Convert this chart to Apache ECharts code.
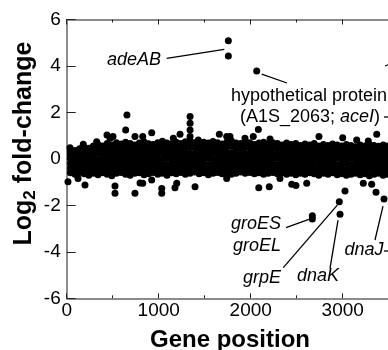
<!DOCTYPE html>
<html><head><meta charset="utf-8">
<script src="https://cdn.jsdelivr.net/npm/echarts@6/dist/echarts.min.js"></script>
<style>html,body{margin:0;padding:0;background:#fff;overflow:hidden;width:388px;height:350px}
#c{width:450px;height:350px}</style></head>
<body><div id="c"></div>
<script>
// ---- data ----
const bandGenes = [40,90,140,190,240,290,340,390,440,490,540,590,
640,690,740,790,840,890,940,990,1040,1090,1140,1190,
1240,1290,1340,1390,1440,1490,1540,1590,1640,1690,1740,1790,
1840,1890,1940,1990,2040,2090,2140,2190,2240,2290,2340,2390,
2440,2490,2540,2590,2640,2690,2740,2790,2840,2890,2940,2990,
3040,3090,3140,3190,3240,3290,3340,3390,3440,3490,3540,3590];
const bandTop = [0.32,0.36,0.44,0.50,0.46,0.56,0.62,0.56,0.66,0.60,0.70,0.64,
0.72,0.66,0.60,0.68,0.74,0.65,0.62,0.70,0.76,0.68,0.64,0.72,
0.66,0.74,0.78,0.70,0.66,0.72,0.68,0.75,0.70,0.64,0.72,0.78,
0.68,0.66,0.74,0.70,0.62,0.68,0.72,0.64,0.70,0.66,0.60,0.68,
0.62,0.66,0.58,0.64,0.60,0.66,0.56,0.62,0.58,0.64,0.60,0.55,
0.62,0.58,0.52,0.60,0.56,0.62,0.58,0.54,0.60,0.56,0.62,0.58];
const bandUpper2 = [0.22,0.28,0.34,0.40,0.38,0.42,0.44,0.40,0.46,0.42,0.48,0.44,
0.50,0.46,0.42,0.46,0.50,0.44,0.42,0.48,0.52,0.46,0.44,0.48,
0.46,0.50,0.52,0.48,0.46,0.50,0.46,0.52,0.48,0.44,0.50,0.54,
0.46,0.46,0.50,0.48,0.42,0.46,0.50,0.44,0.48,0.46,0.42,0.46,
0.42,0.46,0.40,0.44,0.42,0.46,0.38,0.42,0.40,0.44,0.42,0.38,
0.42,0.40,0.36,0.42,0.38,0.42,0.40,0.38,0.42,0.38,0.42,0.40];
const bandUpper1 = [0.12,0.16,0.20,0.22,0.18,0.22,0.24,0.20,0.24,0.20,0.26,0.22,
0.24,0.20,0.18,0.24,0.26,0.22,0.20,0.24,0.26,0.22,0.20,0.24,
0.22,0.26,0.24,0.22,0.20,0.24,0.22,0.26,0.24,0.20,0.24,0.26,
0.22,0.20,0.24,0.22,0.18,0.22,0.24,0.20,0.22,0.20,0.18,0.22,
0.20,0.22,0.18,0.22,0.20,0.22,0.18,0.20,0.18,0.22,0.20,0.18,
0.20,0.18,0.16,0.20,0.18,0.20,0.18,0.16,0.20,0.18,0.20,0.18];
const bandCenter = [0.02,-0.04,0.04,-0.02,0.00,0.03,-0.03,0.05,-0.01,0.02,0.04,-0.02,
0.03,0.00,-0.04,0.02,0.05,-0.01,0.01,0.03,-0.02,0.04,0.00,0.02,
-0.03,0.05,0.01,-0.02,0.03,0.00,0.04,-0.01,0.02,-0.03,0.03,0.01,
-0.02,0.04,0.00,0.02,-0.01,0.03,0.00,-0.02,0.02,0.04,-0.03,0.01,
0.03,-0.01,0.02,0.00,-0.02,0.03,0.01,-0.03,0.02,0.00,0.04,-0.02,
0.01,0.03,-0.01,0.02,0.00,-0.03,0.02,0.04,-0.01,0.01,0.03,0.00];
const bandLower1 = [-0.20,-0.24,-0.18,-0.22,-0.24,-0.20,-0.22,-0.18,-0.24,-0.22,-0.20,-0.18,
-0.22,-0.24,-0.20,-0.18,-0.22,-0.24,-0.20,-0.22,-0.18,-0.24,-0.20,-0.22,
-0.18,-0.22,-0.20,-0.18,-0.22,-0.20,-0.24,-0.22,-0.18,-0.22,-0.20,-0.24,
-0.22,-0.18,-0.20,-0.22,-0.24,-0.20,-0.22,-0.18,-0.20,-0.24,-0.22,-0.20,
-0.22,-0.24,-0.20,-0.22,-0.18,-0.22,-0.24,-0.20,-0.22,-0.18,-0.24,-0.22,
-0.20,-0.24,-0.22,-0.20,-0.22,-0.24,-0.20,-0.22,-0.24,-0.22,-0.20,-0.24];
const bandLower2 = [-0.40,-0.44,-0.38,-0.42,-0.46,-0.40,-0.44,-0.40,-0.44,-0.46,-0.40,-0.38,
-0.44,-0.46,-0.40,-0.40,-0.44,-0.42,-0.38,-0.44,-0.42,-0.46,-0.40,-0.42,
-0.38,-0.44,-0.42,-0.38,-0.42,-0.40,-0.44,-0.42,-0.38,-0.42,-0.40,-0.44,
-0.42,-0.38,-0.42,-0.40,-0.42,-0.40,-0.44,-0.42,-0.38,-0.42,-0.40,-0.44,
-0.42,-0.46,-0.40,-0.44,-0.40,-0.42,-0.46,-0.42,-0.44,-0.40,-0.44,-0.42,
-0.46,-0.44,-0.42,-0.44,-0.42,-0.46,-0.44,-0.40,-0.46,-0.44,-0.42,-0.44];
const bandBottom = [-0.60,-0.66,-0.58,-0.64,-0.70,-0.62,-0.68,-0.60,-0.66,-0.72,-0.62,-0.58,
-0.66,-0.70,-0.62,-0.60,-0.68,-0.64,-0.58,-0.66,-0.62,-0.70,-0.60,-0.64,
-0.58,-0.66,-0.62,-0.56,-0.64,-0.60,-0.68,-0.62,-0.58,-0.64,-0.60,-0.66,
-0.62,-0.56,-0.62,-0.58,-0.64,-0.60,-0.66,-0.62,-0.58,-0.64,-0.60,-0.66,
-0.62,-0.68,-0.62,-0.66,-0.60,-0.64,-0.70,-0.62,-0.66,-0.60,-0.68,-0.64,
-0.70,-0.66,-0.62,-0.68,-0.64,-0.72,-0.66,-0.62,-0.70,-0.66,-0.62,-0.68];

const upOutlierGenes = [655,641,438,924,742,826,1232,1341,1341,1341,1341,1659,1739,2083,2742,3000,3152,3370,3278,471,503,326,180,36,1159,1430,1938,2028,2210,1775,2590];
const upOutlierVals  = [1.89,1.24,1.03,1.13,0.96,0.96,1.06,1.82,1.53,1.24,0.96,1.06,0.96,1.27,0.96,0.91,0.81,1.06,0.77,0.89,0.96,0.74,0.63,0.48,0.89,0.81,0.89,0.96,0.86,0.96,0.60];
const downOutlierGenes = [14,199,525,525,742,797,826,1033,1033,1177,1395,2088,2202,2446,2492,2609,3025,3224,3315,3362,123,924,1196,1739,2318];
const downOutlierVals  = [-0.98,-1.12,-1.17,-1.48,-1.48,-1.04,-1.05,-1.27,-1.48,-1.24,-1.20,-1.24,-1.20,-1.09,-1.15,-1.05,-1.38,-1.05,-1.09,-1.44,-0.84,-0.91,-1.05,-0.84,-0.84];

// labelled genes
const namedGenes = ['adeAB','adeAB','A1S_2063','groES','groEL','grpE','dnaK','dnaJ'];
const namedPos   = [1757,1757,2065,2670,2670,2963,2971,3449];
const namedVals  = [5.09,4.43,3.78,-2.45,-2.59,-1.84,-2.38,-1.73];

const xTickStep = 1000, yTickStep = 2;

// ---- build ----
const FF = "'Liberation Sans', Arial, Helvetica, sans-serif";
const pts = [];
[bandTop,bandUpper2,bandUpper1,bandCenter,bandLower1,bandLower2,bandBottom].forEach(row => {
  row.forEach((v,i) => pts.push([bandGenes[i], v]));
});
upOutlierGenes.forEach((g,i)=>pts.push([g, upOutlierVals[i]]));
downOutlierGenes.forEach((g,i)=>pts.push([g, downOutlierVals[i]]));
namedPos.forEach((g,i)=>pts.push([g, namedVals[i]]));

const axisLineStyle = {color:'#666', width:1.5};
const tickStyle = {color:'#222', width:1};

const chart = echarts.init(document.getElementById('c'));
chart.setOption({
  animation:false,
  backgroundColor:'#fff',
  grid:{left:66.7, top:19.5, width:368, height:278.8},
  xAxis:[{
    type:'value', min:0, max:4000, interval:xTickStep, position:'bottom',
    axisLine:{show:true, onZero:false, lineStyle:axisLineStyle},
    axisTick:{show:true, inside:true, length:5, lineStyle:tickStyle},
    minorTick:{show:true, splitNumber:2, length:3, lineStyle:tickStyle},
    axisLabel:{fontSize:19, color:'#000', fontFamily:FF, margin:3, showMaxLabel:false,
      formatter:v => String(v)},
    splitLine:{show:false}, minorSplitLine:{show:false}
  },{
    type:'value', min:0, max:4000, interval:xTickStep, position:'top',
    axisLine:{show:true, onZero:false, lineStyle:axisLineStyle},
    axisTick:{show:true, inside:true, length:5, lineStyle:tickStyle},
    minorTick:{show:true, splitNumber:2, length:3, lineStyle:tickStyle},
    axisLabel:{show:false}, splitLine:{show:false}
  }],
  yAxis:[{
    type:'value', min:-6, max:6, interval:yTickStep,
    axisLine:{show:true, onZero:false, lineStyle:axisLineStyle},
    axisTick:{show:true, inside:true, length:9, lineStyle:tickStyle},
    axisLabel:{fontSize:19, color:'#000', fontFamily:FF, margin:6, formatter:v => String(v)},
    splitLine:{show:false}
  }],
  series:[{
    type:'scatter', data:pts, symbol:'circle', symbolSize:7,
    itemStyle:{color:'#000', opacity:1, borderWidth:0}, silent:true, xAxisIndex:0, yAxisIndex:0
  }]
});

const P = (g,v) => chart.convertToPixel({xAxisIndex:0, yAxisIndex:0}, [g,v]);
const L = (x1,y1,x2,y2) => ({type:'line', silent:true, shape:{x1,y1,x2,y2}, style:{stroke:'#000', lineWidth:1.3}});
const T = (x,y,text,align,extra) => ({type:'text', silent:true, x, y, style:Object.assign({
  text, fill:'#000', fontSize:18, fontFamily:FF, align, verticalAlign:'middle'}, extra||{})});
const IT = {fontStyle:'italic'};

const pA1 = P(namedPos[0], namedVals[0]), pA2 = P(namedPos[1], namedVals[1]);
const pH = P(namedPos[2], namedVals[2]);
const pG = P(namedPos[3], (namedVals[3]+namedVals[4])/2);
const pE = P(namedPos[5], namedVals[5]);
const pK = P(namedPos[6], namedVals[6]);
const pJ = P(namedPos[7], namedVals[7]);

chart.setOption({graphic:[
  // axis titles
  {type:'text', silent:true, x:24, y:143.5, rotation:Math.PI/2,
   style:{text:'{b|Log}{s|2}{b| fold-change}', align:'center', verticalAlign:'middle',
     rich:{b:{fontSize:25, fontWeight:'bold', fontFamily:FF, fill:'#000', lineHeight:30, verticalAlign:'middle'},
           s:{fontSize:17, fontWeight:'bold', fontFamily:FF, fill:'#000', lineHeight:17, verticalAlign:'bottom'}}}},
  {type:'text', silent:true, x:230, y:340,
   style:{text:'Gene position', fontSize:24, fontWeight:'bold', fontFamily:FF, fill:'#000', align:'center', verticalAlign:'middle'}},
  // annotations
  T(161, 60, 'adeAB', 'right', IT),
  L(166.7, 58.3, pA1[0]-4, (pA1[1]+pA2[1])/2+1),
  L(pH[0]+5, pH[1]+3, 287, 83),
  T(309, 96, 'hypothetical protein', 'center'),
  {type:'text', silent:true, x:310, y:117, style:{text:'{r|(A1S_2063; }{i|aceI}{r|)}', align:'center', verticalAlign:'middle',
     rich:{r:{fontSize:18, fontFamily:FF, fill:'#000'}, i:{fontSize:18, fontFamily:FF, fontStyle:'italic', fill:'#000'}}}},
  L(384, 117, 395, 117),
  L(385, 66, 395, 62),
  T(281, 224, 'groES', 'right', IT),
  T(281, 246, 'groEL', 'right', IT),
  L(286, 227.7, pG[0]-3.5, pG[1]+2),
  T(281, 278, 'grpE', 'right', IT),
  L(283.3, 267.7, pE[0]-2, pE[1]+3.5),
  T(318, 276, 'dnaK', 'center', IT),
  L(pK[0]-2, pK[1]+6, 330, 268.3),
  T(364, 250, 'dnaJ', 'center', IT),
  L(pJ[0]-1, pJ[1]+7, 375, 240),
  L(384, 251, 395, 251)
]});
</script>
</body></html>
